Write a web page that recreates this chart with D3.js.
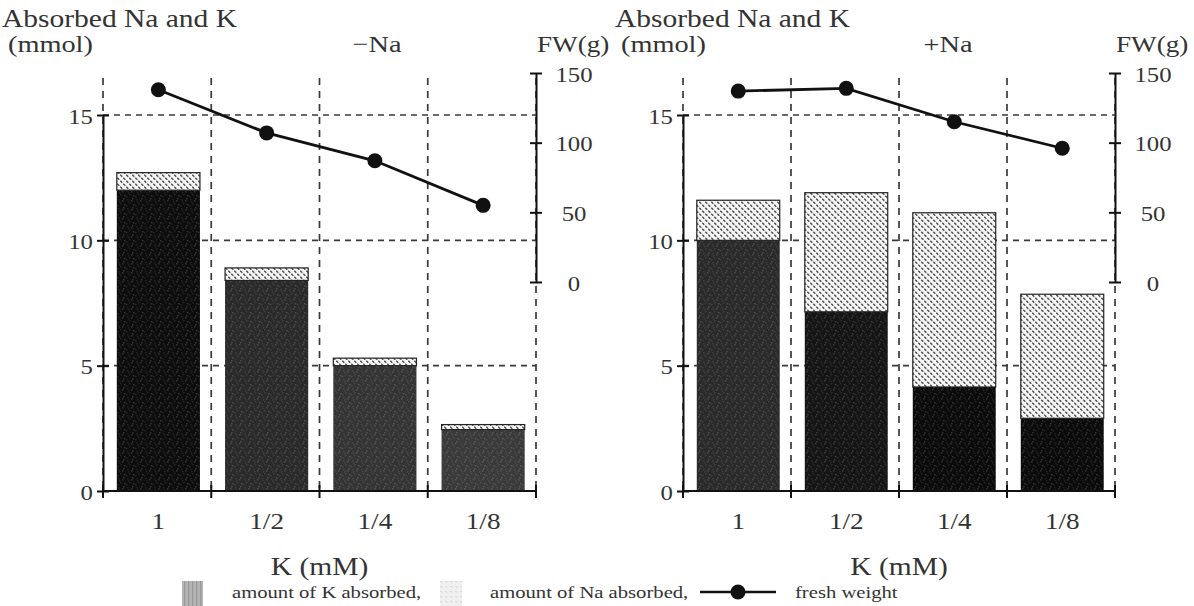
<!DOCTYPE html>
<html>
<head>
<meta charset="utf-8">
<script src="https://cdn.jsdelivr.net/npm/d3@7"></script>
<style>
  html, body { margin: 0; padding: 0; background: #fff; }
  svg { display: block; }
  text { font-family: "Liberation Serif", "DejaVu Serif", serif; fill: #333; }
</style>
</head>
<body>
<svg id="chart" width="1194" height="606"></svg>
<script>
// ---------------- data ----------------
const categories = ["1", "1/2", "1/4", "1/8"];           // K (mM)
const kAbsorbedMinusNa = [12.0, 8.4, 5.0, 2.45];         // mmol
const naAbsorbedMinusNa = [0.7, 0.5, 0.3, 0.2];          // mmol
const freshWeightMinusNa = [138, 107, 87, 55];           // g
const kAbsorbedPlusNa = [10.0, 7.15, 4.15, 2.9];         // mmol
const naAbsorbedPlusNa = [1.6, 4.75, 6.95, 4.95];        // mmol
const freshWeightPlusNa = [137, 139, 115, 96];           // g
const yTicks = [0, 5, 10, 15];
const fwTicks = [0, 50, 100, 150];
const panelTitles = ["\u2212Na", "+Na"];

// ---------------- styles ----------------
const kShadesMinusNa = ["#0d0d0d", "#2a2a2a", "#343434", "#3a3a3a"];
const kShadesPlusNa = ["#2a2a2a", "#151515", "#0b0b0b", "#0b0b0b"];
const SX = 1.18; // horizontal stretch of the scanned lettering

const svg = d3.select("#chart");
const defs = svg.append("defs");

// Na pattern: light with small diagonal dashes
const naPat = defs.append("pattern").attr("id", "naPat")
  .attr("patternUnits", "userSpaceOnUse").attr("width", 6).attr("height", 6);
naPat.append("rect").attr("width", 6).attr("height", 6).attr("fill", "#f6f6f6");
naPat.append("line").attr("x1", 0.3).attr("y1", 0.8).attr("x2", 2.3).attr("y2", 2.8)
  .attr("stroke", "#4a4a4a").attr("stroke-width", 1.3);
naPat.append("line").attr("x1", 3.3).attr("y1", 3.8).attr("x2", 5.3).attr("y2", 5.8)
  .attr("stroke", "#4a4a4a").attr("stroke-width", 1.3);

// speckle overlay for K bars
const spk = defs.append("pattern").attr("id", "speckle")
  .attr("patternUnits", "userSpaceOnUse").attr("width", 9).attr("height", 9);
[[1,1],[5,2],[3,5],[7,6],[0,7],[6,0],[2,3]].forEach(([a,b],i) => {
  spk.append("rect").attr("x", a).attr("y", b).attr("width", 1.5).attr("height", 1.5)
    .attr("fill", i % 2 ? "rgba(255,255,255,0.16)" : "rgba(255,255,255,0.09)");
});

// legend K pattern: grey with vertical stripes
const kLeg = defs.append("pattern").attr("id", "kLeg")
  .attr("patternUnits", "userSpaceOnUse").attr("width", 4).attr("height", 4);
kLeg.append("rect").attr("width", 4).attr("height", 4).attr("fill", "#b4b4b4");
kLeg.append("rect").attr("x", 0).attr("width", 1.2).attr("height", 4).attr("fill", "#999");

const naLeg = defs.append("pattern").attr("id", "naLeg")
  .attr("patternUnits", "userSpaceOnUse").attr("width", 5).attr("height", 5);
naLeg.append("rect").attr("width", 5).attr("height", 5).attr("fill", "#f0f0f0");
naLeg.append("line").attr("x1", 0.5).attr("y1", 1).attr("x2", 2).attr("y2", 2.5)
  .attr("stroke", "#c4c4c4").attr("stroke-width", 1);

function stext(g, x, y, str, anchor, size) {
  return g.append("text")
    .attr("transform", `translate(${x},${y}) scale(${SX},1)`)
    .attr("text-anchor", anchor)
    .style("font-size", size + "px")
    .text(str);
}

const panels = [
  { x0: 103, x1: 536, k: kAbsorbedMinusNa, na: naAbsorbedMinusNa, fw: freshWeightMinusNa,
    shades: kShadesMinusNa, title: panelTitles[0], titleX: 377, ylabX: 2 },
  { x0: 683, x1: 1115, k: kAbsorbedPlusNa, na: naAbsorbedPlusNa, fw: freshWeightPlusNa,
    shades: kShadesPlusNa, title: panelTitles[1], titleX: 948, ylabX: 615 }
];

const yTop = 78;

panels.forEach(p => {
  const g = svg.append("g");
  const y = d3.scaleLinear().domain([0, 15]).range([491, 115]);
  const fw = d3.scaleLinear().domain([0, 150]).range([282, 73]);
  const x = d3.scaleBand().domain(categories).range([p.x0, p.x1])
    .paddingInner(0.232).paddingOuter(0.116).align(0.55);
  const bounds = d3.scaleLinear().domain([0, categories.length]).range([p.x0, p.x1]);
  const boundVals = d3.range(categories.length + 1);

  // dashed grid
  g.append("g").selectAll("line").data(yTicks.filter(v => v > 0)).join("line")
    .attr("x1", p.x0).attr("x2", p.x1)
    .attr("y1", d => y(d)).attr("y2", d => y(d))
    .attr("stroke", "#3a3a3a").attr("stroke-width", 1.6).attr("stroke-dasharray", "6,5");
  g.append("g").selectAll("line").data(boundVals).join("line")
    .attr("x1", d => bounds(d)).attr("x2", d => bounds(d))
    .attr("y1", yTop).attr("y2", y(0))
    .attr("stroke", "#3a3a3a").attr("stroke-width", 1.7).attr("stroke-dasharray", "7,6");

  // stacked bars
  const bars = g.append("g");
  categories.forEach((c, i) => {
    const k = p.k[i], na = p.na[i];
    bars.append("rect").attr("x", x(c)).attr("width", x.bandwidth())
      .attr("y", y(k)).attr("height", y(0) - y(k)).attr("fill", p.shades[i]);
    bars.append("rect").attr("x", x(c)).attr("width", x.bandwidth())
      .attr("y", y(k)).attr("height", y(0) - y(k)).attr("fill", "url(#speckle)");
    bars.append("rect").attr("x", x(c)).attr("width", x.bandwidth())
      .attr("y", y(k + na)).attr("height", y(k) - y(k + na))
      .attr("fill", "url(#naPat)").attr("stroke", "#222").attr("stroke-width", 1.2);
  });

  // left y axis
  const ya = g.append("g").attr("transform", `translate(${p.x0},0)`)
    .call(d3.axisLeft(y).tickValues(yTicks).tickSizeOuter(0).tickPadding(10));
  ya.select(".domain").attr("stroke", "#111").attr("stroke-width", 2);
  ya.selectAll(".tick line").attr("x1", -6).attr("x2", 6).attr("stroke", "#111").attr("stroke-width", 2);
  ya.selectAll(".tick text").attr("x", null).attr("dy", null)
    .attr("transform", `translate(-10,8) scale(${SX},1)`)
    .style("font-size", "21px").style("font-family", "Liberation Serif").attr("fill", "#3a3a3a");

  // x axis (line with boundary ticks) and category labels
  const xa = g.append("g").attr("transform", `translate(0,${y(0)})`)
    .call(d3.axisBottom(x).tickSize(0).tickPadding(22));
  xa.select(".domain").remove();
  xa.selectAll(".tick text").attr("y", null).attr("dy", null)
    .attr("transform", `translate(0,38) scale(${SX},1)`)
    .style("font-size", "23px").style("font-family", "Liberation Serif").attr("fill", "#333");
  g.append("line").attr("x1", p.x0).attr("x2", p.x1).attr("y1", y(0)).attr("y2", y(0))
    .attr("stroke", "#111").attr("stroke-width", 2.2);
  g.append("g").selectAll("line").data(boundVals).join("line")
    .attr("x1", d => bounds(d)).attr("x2", d => bounds(d))
    .attr("y1", y(0) - 6).attr("y2", y(0) + 7)
    .attr("stroke", "#111").attr("stroke-width", 2);

  // fresh weight axis
  const fa = g.append("g").attr("transform", `translate(${p.x1},0)`)
    .call(d3.axisRight(fw).tickValues(fwTicks).tickSizeOuter(0));
  fa.select(".domain").attr("stroke", "#111").attr("stroke-width", 2);
  fa.selectAll(".tick line").attr("x1", -6).attr("x2", 6).attr("stroke", "#111").attr("stroke-width", 2);
  fa.selectAll(".tick text").attr("x", null).attr("dy", null)
    .attr("text-anchor", "middle")
    .attr("transform", `translate(38,8) scale(${SX},1)`)
    .style("font-size", "21px").style("font-family", "Liberation Serif").attr("fill", "#3a3a3a");

  // fresh weight line
  const pts = categories.map((c, i) => [x(c) + x.bandwidth() / 2, fw(p.fw[i])]);
  g.append("path").datum(pts).attr("d", d3.line())
    .attr("fill", "none").attr("stroke", "#111").attr("stroke-width", 2.8);
  g.append("g").selectAll("circle").data(pts).join("circle")
    .attr("cx", d => d[0]).attr("cy", d => d[1]).attr("r", 7.5).attr("fill", "#111");

  // titles
  stext(g, p.ylabX, 27, "Absorbed Na and K", "start", 25);
  stext(g, p.ylabX + 6, 52, "(mmol)", "start", 24);
  stext(g, p.titleX, 52, p.title, "middle", 24);
  stext(g, p.x1 + 1, 52, "FW(g)", "start", 23);
  stext(g, (p.x0 + p.x1) / 2, 575, "K (mM)", "middle", 25);
});

// legend
const lg = svg.append("g");
lg.append("rect").attr("x", 182).attr("y", 581).attr("width", 21).attr("height", 26).attr("fill", "url(#kLeg)");
stext(lg, 232, 598, "amount of K absorbed,", "start", 17.5);
lg.append("rect").attr("x", 440).attr("y", 581).attr("width", 22).attr("height", 26).attr("fill", "url(#naLeg)");
stext(lg, 490, 598, "amount of Na absorbed,", "start", 17.5);
lg.append("line").attr("x1", 700).attr("x2", 776).attr("y1", 592).attr("y2", 592)
  .attr("stroke", "#111").attr("stroke-width", 2.6);
lg.append("circle").attr("cx", 738).attr("cy", 592).attr("r", 7.5).attr("fill", "#111");
stext(lg, 795, 598, "fresh weight", "start", 17.5);
</script>
</body>
</html>
